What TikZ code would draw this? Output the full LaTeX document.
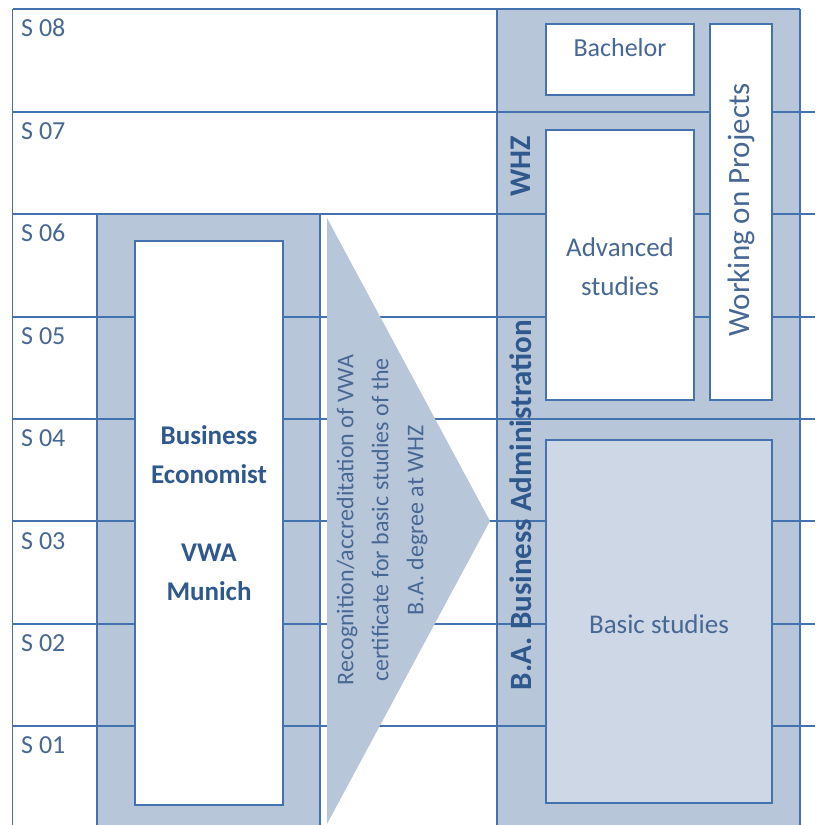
\documentclass[tikz,border=0pt]{standalone}
\usepackage{fontspec}
\setmainfont{Carlito}
\usetikzlibrary{positioning}
\definecolor{gridblue}{RGB}{68,114,175}
\definecolor{boxgray}{RGB}{184,198,218}
\definecolor{basicgray}{RGB}{205,215,229}
\definecolor{textblue}{RGB}{47,88,140}
\definecolor{labelblue}{RGB}{72,104,148}

\begin{document}
\begin{tikzpicture}[x=1pt,y=-1pt,
  gridline/.style={draw=gridblue,line width=1.8pt},
  studybox/.style={draw=gridblue,line width=1.8pt,fill=white},
  semlabel/.style={font=\fontsize{26}{30}\selectfont,text=labelblue,anchor=west,inner sep=0pt},
  boxlabel/.style={font=\fontsize{27}{39}\selectfont,text=labelblue,align=center,inner sep=0pt},
  sidelabel/.style={font=\bfseries\fontsize{31}{36}\selectfont,text=textblue,rotate=90,inner sep=0pt}]
\useasboundingbox (0,0) rectangle (815,825);
\fill[white] (0,0) rectangle (815,825);
\fill[boxgray] (97,214) rectangle (320,825);
\fill[boxgray] (497,9) rectangle (800,825);

\draw[gridline] (12.5,9) -- (800,9);
\draw[gridline] (12.5,112) -- (815,112);
\draw[gridline] (12.5,214) -- (815,214);
\draw[gridline] (12.5,317) -- (815,317);
\draw[gridline] (12.5,419) -- (815,419);
\draw[gridline] (12.5,521) -- (815,521);
\draw[gridline] (12.5,624) -- (815,624);
\draw[gridline] (12.5,726) -- (815,726);
\draw[gridline] (12.5,9) -- (12.5,825);
\draw[gridline] (97,214) -- (97,825);
\draw[gridline] (320,214) -- (320,825);
\draw[gridline] (497,9) -- (497,825);
\draw[gridline] (800,9) -- (800,825);

\node[semlabel] (s08) at (21,28) {S 08};
\node[semlabel] (s07) at (21,131) {S 07};
\node[semlabel] (s06) at (21,233) {S 06};
\node[semlabel] (s05) at (21,336) {S 05};
\node[semlabel] (s04) at (21,438) {S 04};
\node[semlabel] (s03) at (21,541) {S 03};
\node[semlabel] (s02) at (21,643) {S 02};
\node[semlabel] (s01) at (21,745) {S 01};

\fill[boxgray] (327,218) -- (490,521) -- (327,824) -- cycle;
\node[font=\fontsize{24}{35}\selectfont,text=labelblue,rotate=90,align=center,inner sep=0pt] (recognition) at (382,520) {Recognition/accreditation of VWA\\certificate for basic studies of the\\B.A. degree at WHZ};

\draw[studybox] (135,241) rectangle (283,805);
\node[font=\bfseries\fontsize{27}{39}\selectfont,text=textblue,align=center,inner sep=0pt] (vwa) at (209,513) {Business\\Economist\\[39pt]VWA\\Munich};

\draw[studybox] (546,24) rectangle (694,95);
\draw[studybox] (546,130) rectangle (694,400);
\draw[studybox] (710,24) rectangle (772,400);
\draw[studybox,fill=basicgray] (546,440) rectangle (772,803);
\node[boxlabel,font=\fontsize{26}{30}\selectfont] (bachelor) at (620,48) {Bachelor};
\node[boxlabel] (advanced) at (620,267) {Advanced\\studies};
\node[boxlabel,rotate=90,font=\fontsize{31}{36}\selectfont] (projects) at (741,210) {Working on Projects};
\node[boxlabel] (basic) at (659,624) {Basic studies};

\node[sidelabel,font=\bfseries\fontsize{30}{36}\selectfont] (whz) at (521,166) {WHZ};
\node[sidelabel] (ba) at (521,505) {B.A. Business Administration};
\end{tikzpicture}
\end{document}
